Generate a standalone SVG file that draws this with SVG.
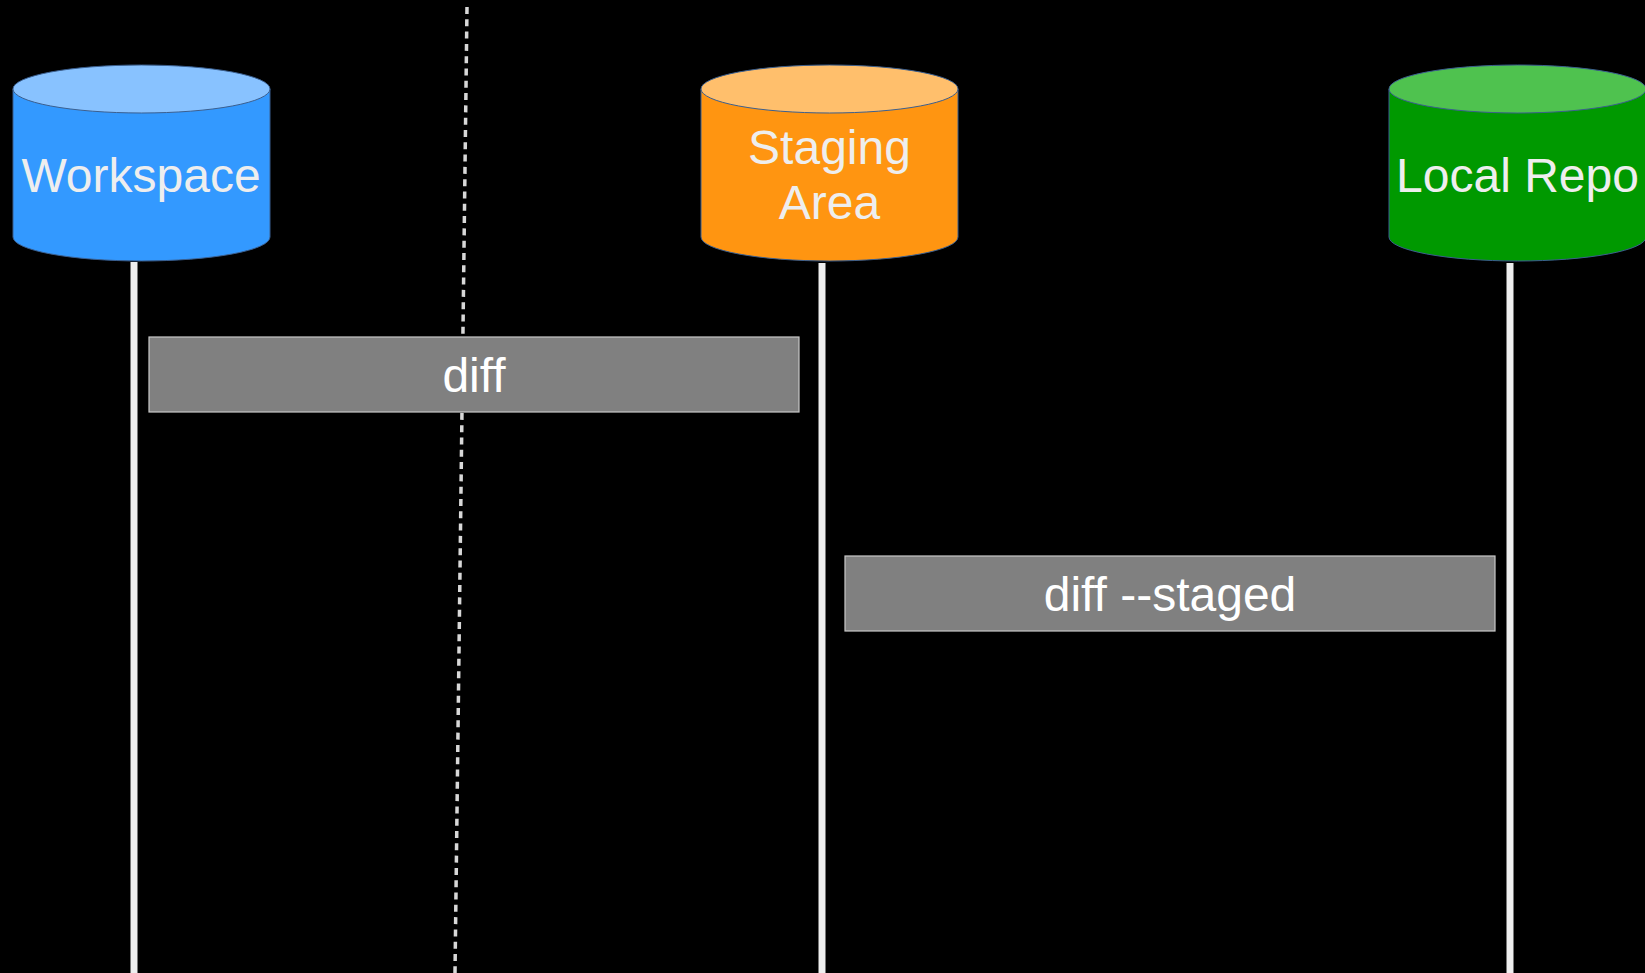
<svg xmlns="http://www.w3.org/2000/svg" width="1645" height="973" viewBox="0 0 1645 973">
<style>
.bg{fill:#000}
.cyl{stroke:#3b5f8f;stroke-width:1}
.lbl{font-family:"Liberation Sans",Arial,sans-serif;font-size:48px;fill:#eeeeee;text-anchor:middle}
.box{fill:#808080;stroke:#c8c8c8;stroke-width:1.2}
.boxlbl{font-family:"Liberation Sans",Arial,sans-serif;font-size:48px;fill:#ffffff;text-anchor:middle}
.life{stroke:#eeeeee;stroke-width:7;fill:none}
.dash{stroke:#d8d8d8;stroke-width:3.5;stroke-dasharray:7 5.3;fill:none}
</style>
<rect class="bg" x="0" y="0" width="1645" height="973"/>
<g id="connectors">
  <line class="dash" x1="467" y1="7" x2="455" y2="973"/>
  <line class="life" x1="134" y1="262" x2="134" y2="973"/>
  <line class="life" x1="822" y1="263" x2="822" y2="973"/>
  <line class="life" x1="1510" y1="263" x2="1510" y2="973"/>
</g>
<g id="workspace">
  <path class="cyl" d="M13,89 V237 A128.5,24 0 0 0 270,237 V89 Z" fill="#3399ff"/>
  <ellipse class="cyl" cx="141.5" cy="89" rx="128.5" ry="24" fill="#88c2ff"/>
  <text class="lbl" x="141" y="192">Workspace</text>
</g>
<g id="staging">
  <path class="cyl" d="M701,89 V237 A128.5,24 0 0 0 958,237 V89 Z" fill="#ff9511"/>
  <ellipse class="cyl" cx="829.5" cy="89" rx="128.5" ry="24" fill="#ffbf6c"/>
  <text class="lbl" x="829.5" y="164">Staging</text>
  <text class="lbl" x="829.5" y="219">Area</text>
</g>
<g id="localrepo">
  <path class="cyl" d="M1389,89 V237 A128.5,24 0 0 0 1646,237 V89 Z" fill="#009900"/>
  <ellipse class="cyl" cx="1517.5" cy="89" rx="128.5" ry="24" fill="#4fc24f"/>
  <text class="lbl" x="1517.5" y="192">Local Repo</text>
</g>
<g id="diff">
  <rect class="box" x="149" y="337" width="650" height="75"/>
  <text class="boxlbl" x="474" y="392">diff</text>
</g>
<g id="diff-staged">
  <rect class="box" x="845" y="556" width="650" height="75"/>
  <text class="boxlbl" x="1170" y="611">diff --staged</text>
</g>
</svg>
